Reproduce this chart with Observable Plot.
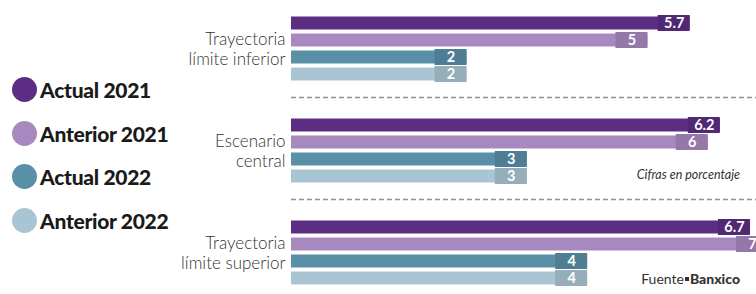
<!DOCTYPE html>
<html><head><meta charset="utf-8">
<script src="https://cdn.jsdelivr.net/npm/d3@7"></script>
<script src="https://cdn.jsdelivr.net/npm/@observablehq/plot@0.6"></script>
<style>
body{margin:0;background:#fff;}
#wrap{position:relative;width:756px;height:294px;overflow:hidden;font-family:Lato,"Open Sans",sans-serif;}
#legend{position:absolute;left:12px;top:68px;}
.item{display:flex;align-items:center;height:43.5px;white-space:nowrap;}
.sw{width:25px;height:25px;border-radius:50%;margin-right:3px;}
.lab{font-weight:900;font-size:21px;color:#1a1a1a;letter-spacing:-0.3px;}
.note{position:absolute;right:16px;color:#333;white-space:nowrap;}
#cifras{top:167px;font-style:italic;font-size:12.5px;}
#fuente{top:270px;font-size:14px;}
#fuente b{font-weight:900;}
.bul{display:inline-block;width:4px;height:4px;background:#333;vertical-align:middle;margin:0 1px 2px 1px;}
</style></head>
<body><div id="wrap"><div id="chart"></div><div id="legend"></div>
<div id="cifras" class="note">Cifras en porcentaje</div>
<div id="fuente" class="note">Fuente<span class="bul"></span><b>Banxico</b></div></div>
<script>
const groups = ["Trayectoria\nlímite inferior", "Escenario\ncentral", "Trayectoria\nlímite superior"];
const series = ["Actual 2021", "Anterior 2021", "Actual 2022", "Anterior 2022"];
const colors = ["#5c2d82", "#a788bf", "#5a8fa8", "#a9c5d3"];
const actual2021 = [5.7, 6.2, 6.7];
const anterior2021 = [5, 6, 7];
const actual2022 = [2, 3, 4];
const anterior2022 = [2, 3, 4];

const seriesValues = [actual2021, anterior2021, actual2022, anterior2022];
const table = [];
groups.forEach((g, gi) => series.forEach((s, si) => table.push({group: g, series: s, value: seriesValues[si][gi], color: colors[si]})));
const separators = groups.slice(0, -1).map(g => ({group: g, series: series[series.length - 1]}));

const xBase = -0.91;
const chart = Plot.plot({
  width: 756, height: 294,
  marginLeft: 291, marginRight: 0, marginTop: 13.5, marginBottom: 7,
  style: {fontFamily: "Lato, 'Open Sans', sans-serif", background: "transparent"},
  x: {domain: [xBase, 6.8], axis: null},
  y: {domain: series, axis: null, paddingInner: 0.26, paddingOuter: 0.13},
  fy: {domain: groups, paddingInner: 0.338, paddingOuter: 0, axis: null},
  color: {domain: series, range: colors},
  marks: [
    Plot.axisFy({anchor: "left", tickSize: 0, tickPadding: 6, fontSize: 17, lineHeight: 1.18, label: null, fill: "#333", fontWeight: 300}),
    Plot.ruleY(separators, {fy: "group", y: "series", dy: 23, stroke: "#8593a6", strokeWidth: 1.5, strokeDasharray: "5,3"}),
    Plot.barX(table, {fy: "group", y: "series", x1: xBase, x2: "value", fill: "series"}),
    Plot.barX(table, {fy: "group", y: "series", x1: "value", x2: "value", insetLeft: -32, insetTop: -1.5, insetBottom: -1.5,
      fill: {value: d => d3.color(d.color).darker(0.35).formatHex(), scale: null}}),
    Plot.text(table, {fy: "group", y: "series", x: "value", dx: -16, text: d => String(d.value), fill: "white", fontWeight: "bold", fontSize: 14.5})
  ]
});
document.getElementById("chart").appendChild(chart);

const legend = document.getElementById("legend");
series.forEach((s, i) => {
  const it = document.createElement("div"); it.className = "item";
  it.innerHTML = `<div class="sw" style="background:${colors[i]}"></div><span class="lab">${s}</span>`;
  legend.appendChild(it);
});
</script></body></html>
